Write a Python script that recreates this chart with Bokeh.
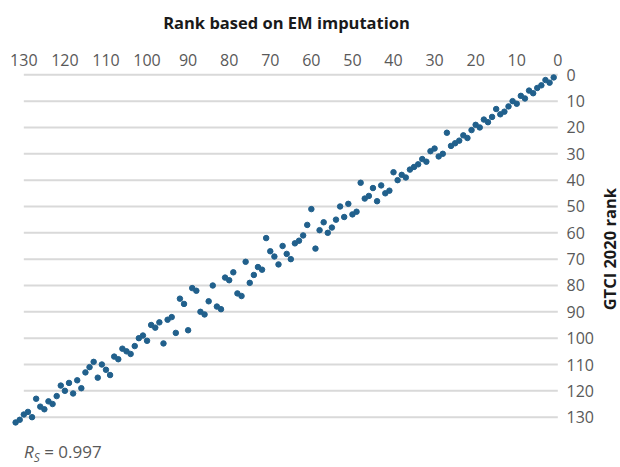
from bokeh.plotting import figure
from bokeh.models import Range1d, FixedTicker, Div
from bokeh.layouts import column, row
from bokeh.embed import file_html
from bokeh.resources import INLINE

# Rank based on EM imputation (x) and GTCI 2020 rank (y)
em_rank = [1, 2, 3, 4, 5, 6, 7, 8, 9, 10,
           11, 12, 13, 14, 15, 16, 17, 18, 19, 20,
           21, 22, 23, 24, 25, 26, 27, 28, 29, 30,
           31, 32, 33, 34, 35, 36, 37, 38, 39, 40,
           41, 42, 43, 44, 45, 46, 47, 48, 49, 50,
           51, 52, 53, 54, 55, 56, 57, 58, 59, 60,
           61, 62, 63, 64, 65, 66, 67, 68, 69, 70,
           71, 72, 73, 74, 75, 76, 77, 78, 79, 80,
           81, 82, 83, 84, 85, 86, 87, 88, 89, 90,
           91, 92, 93, 94, 95, 96, 97, 98, 99, 100,
           101, 102, 103, 104, 105, 106, 107, 108, 109, 110,
           111, 112, 113, 114, 115, 116, 117, 118, 119, 120,
           121, 122, 123, 124, 125, 126, 127, 128, 129, 130,
           131, 132]
gtci_rank = [1, 3, 2, 4, 5, 7, 6, 9, 8, 11,
             10, 12, 14, 15, 13, 16, 18, 17, 20, 19,
             21, 24, 23, 25, 26, 27, 22, 30, 31, 28,
             29, 33, 32, 34, 35, 36, 39, 38, 40, 37,
             44, 45, 42, 48, 43, 46, 47, 41, 52, 53,
             49, 54, 50, 55, 58, 60, 56, 59, 66, 51,
             57, 61, 63, 64, 70, 68, 65, 72, 69, 67,
             62, 74, 73, 76, 79, 71, 84, 83, 75, 78,
             77, 89, 88, 80, 86, 91, 90, 82, 81, 97,
             87, 85, 98, 92, 93, 102, 94, 96, 95, 101,
             99, 100, 103, 106, 105, 104, 108, 107, 114, 112,
             110, 115, 109, 111, 113, 119, 116, 121, 117, 120,
             118, 122, 125, 124, 127, 126, 123, 130, 128, 129,
             131, 132]
x_ticks = [0, 10, 20, 30, 40, 50, 60, 70, 80, 90, 100, 110, 120, 130]
y_ticks = [0, 10, 20, 30, 40, 50, 60, 70, 80, 90, 100, 110, 120, 130]
x_title = "Rank based on EM imputation"
y_title = "GTCI 2020 rank"
rs_value = "0.997"

FONT = "Open Sans"
LABEL_COLOR = "#595959"
TITLE_COLOR = "#1a1a1a"
DOT_COLOR = "#21608C"

W_TOTAL, W_YTITLE = 620, 20
W_PLOT = W_TOTAL - W_YTITLE
H_PLOT, H_NOTE = 438, 29
B_LEFT, B_RIGHT, B_TOP, B_BOTTOM = 11, 39, 70, 10

p = figure(width=W_PLOT, height=H_PLOT, output_backend="svg", toolbar_location=None,
           x_range=Range1d(133, -0.9), y_range=Range1d(134.3, -1.63),
           x_axis_location="above", y_axis_location="right",
           min_border_left=B_LEFT, min_border_right=B_RIGHT,
           min_border_top=B_TOP, min_border_bottom=B_BOTTOM)
p.outline_line_color = None
p.grid.visible = False
p.background_fill_color = "white"

# horizontal gridlines spanning the labelled x extent
p.segment(x0=[max(x_ticks)] * len(y_ticks), x1=[min(x_ticks)] * len(y_ticks),
          y0=y_ticks, y1=y_ticks, line_color="#d9d9d9", line_width=2)

p.scatter(em_rank, gtci_rank, size=5.5, color=DOT_COLOR, line_color=DOT_COLOR)

for ax, ticks in ((p.xaxis, x_ticks), (p.yaxis, y_ticks)):
    ax.ticker = FixedTicker(ticks=ticks)
    ax.axis_line_color = None
    ax.major_tick_line_color = None
    ax.minor_tick_line_color = None
    ax.major_tick_out = 0
    ax.major_tick_in = 0
    ax.major_label_text_font = FONT
    ax.major_label_text_font_size = "16px"
    ax.major_label_text_color = LABEL_COLOR

p.xaxis.axis_label = x_title
p.xaxis.axis_label_text_font = FONT
p.xaxis.axis_label_text_font_style = "bold"
p.xaxis.axis_label_text_font_size = "16.5px"
p.xaxis.axis_label_text_color = TITLE_COLOR
p.xaxis.major_label_standoff = 5
p.xaxis.axis_label_standoff = 17
p.yaxis.major_label_standoff = 5

ytitle = Div(text=('<div style="box-sizing:border-box;height:%dpx;width:%dpx;padding-top:60px;'
                   'display:flex;align-items:center;justify-content:center;">'
                   '<span style="writing-mode:vertical-rl;transform:rotate(180deg);'
                   'font-family:\'Open Sans\';font-weight:bold;font-size:16.5px;color:%s;'
                   'white-space:nowrap;line-height:20px">%s</span></div>')
             % (H_PLOT, W_YTITLE, TITLE_COLOR, y_title),
             width=W_YTITLE, height=H_PLOT, margin=(0, 0, 0, 0))

rs = Div(text=('<span style="font-family:\'Open Sans\';font-size:17px;color:%s;white-space:nowrap;line-height:28px">'
               '<i>R</i><sub style="font-size:12px"><i>S</i></sub> = %s</span>') % (LABEL_COLOR, rs_value),
         width=W_TOTAL - 24, height=H_NOTE, margin=(0, 0, 0, 24))

layout = column(row(p, ytitle, spacing=0), rs, spacing=0)
open("out.html", "w").write(file_html(layout, INLINE))
